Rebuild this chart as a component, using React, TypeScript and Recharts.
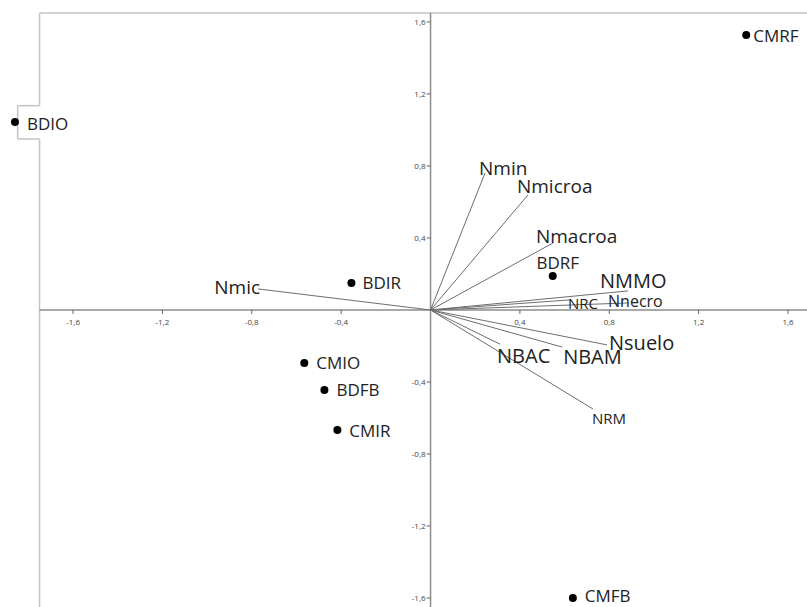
import { ReferenceLine, Scatter, ScatterChart, XAxis, YAxis } from "recharts";

// sites (points)
const siteNames = ["BDIO", "CMRF", "BDIR", "BDRF", "CMIO", "BDFB", "CMIR", "CMFB"];
const siteX = [-1.86, 1.413, -0.354, 0.547, -0.565, -0.475, -0.417, 0.637];
const siteY = [1.044, 1.528, 0.15, 0.189, -0.294, -0.444, -0.667, -1.6];

// variables (vectors from origin)
const varNames = ["Nmin", "Nmicroa", "Nmacroa", "NMMO", "Nnecro", "NRC", "Nsuelo", "NBAM", "NBAC", "NRM", "Nmic"];
const varX = [0.244, 0.436, 0.548, 0.884, 0.884, 0.624, 0.79, 0.589, 0.311, 0.727, -0.772];
const varY = [0.761, 0.639, 0.372, 0.106, 0.039, 0.056, -0.194, -0.206, -0.19, -0.55, 0.117];

const xTicks = [-1.6, -1.2, -0.8, -0.4, 0.4, 0.8, 1.2, 1.6];
const yTicks = [1.6, 1.2, 0.8, 0.4, -0.4, -0.8, -1.2, -1.6];

const X_MIN = -1.927;
const X_MAX = 1.685;
const Y_MIN = -1.65;
const Y_MAX = 1.722;
const FRAME_X = -1.75;
const FRAME_TOP = 1.65;

const FONT = "'Open Sans', sans-serif";

// label placement relative to the marker, in px
const siteLabel: Record<string, { dx: number; dy: number; anchor?: string }> = {
  BDIO: { dx: 12, dy: 1 },
  CMRF: { dx: 7, dy: 1 },
  BDIR: { dx: 11, dy: 0 },
  BDRF: { dx: 5, dy: -13, anchor: "middle" },
  CMIO: { dx: 12, dy: 0 },
  BDFB: { dx: 12, dy: 0 },
  CMIR: { dx: 12, dy: 0 },
  CMFB: { dx: 12, dy: -2 },
};

const varLabel: Record<string, { dx: number; dy: number; size: number; anchor?: string }> = {
  Nmin: { dx: -6, dy: -5, size: 19 },
  Nmicroa: { dx: -11, dy: -9, size: 19 },
  Nmacroa: { dx: -17, dy: -7, size: 19 },
  NMMO: { dx: -28, dy: -10, size: 20 },
  Nnecro: { dx: -20, dy: -2, size: 16 },
  NRC: { dx: -2, dy: 3, size: 15 },
  Nsuelo: { dx: 2, dy: -2, size: 20 },
  NBAM: { dx: 1, dy: 9, size: 20 },
  NBAC: { dx: -3, dy: 11, size: 20 },
  NRM: { dx: -1, dy: 9, size: 15 },
  Nmic: { dx: 2, dy: -2, size: 19, anchor: "end" },
};

const sites = siteNames.map((name, i) => ({ name, x: siteX[i], y: siteY[i] }));
const vars = varNames.map((name, i) => ({ name, x: varX[i], y: varY[i] }));
const xTickData = xTicks.map((v) => ({ x: v, y: 0 }));
const yTickData = yTicks.map((v) => ({ x: 0, y: v }));

const fmt = (v: number) => v.toFixed(1).replace(".", ",");

const frameSegs = [
  [FRAME_X, FRAME_TOP, X_MAX, FRAME_TOP],
  [FRAME_X, FRAME_TOP, FRAME_X, 1.135],
  [FRAME_X, 1.135, -1.848, 1.135],
  [-1.848, 1.135, -1.848, 0.95],
  [-1.848, 0.95, FRAME_X, 0.95],
  [FRAME_X, 0.95, FRAME_X, Y_MIN],
];

function SiteDot(props: any) {
  const { cx, cy, payload } = props;
  const l = siteLabel[payload.name];
  return (
    <g>
      <circle cx={cx} cy={cy} r={4} fill="#000" />
      <text
        x={cx + l.dx}
        y={cy + l.dy}
        textAnchor={l.anchor ?? "start"}
        dominantBaseline="central"
        fontFamily={FONT}
        fontSize={17}
        fill="#222"
      >
        {payload.name}
      </text>
    </g>
  );
}

function VarLabel(props: any) {
  const { cx, cy, payload } = props;
  const l = varLabel[payload.name];
  return (
    <text
      x={cx + l.dx}
      y={cy + l.dy}
      textAnchor={l.anchor ?? "start"}
      dominantBaseline="central"
      fontFamily={FONT}
      fontSize={l.size}
      fill="#222"
    >
      {payload.name}
    </text>
  );
}

function XTick(props: any) {
  const { cx, cy, payload } = props;
  return (
    <g>
      <line x1={cx} y1={cy} x2={cx} y2={cy + 4} stroke="#666" strokeWidth={1} />
      <text x={cx} y={cy + 12} textAnchor="middle" dominantBaseline="central" fontFamily={FONT} fontSize={8} fill="#444">
        {fmt(payload.x)}
      </text>
    </g>
  );
}

function YTick(props: any) {
  const { cx, cy, payload } = props;
  return (
    <g>
      <line x1={cx - 4} y1={cy} x2={cx} y2={cy} stroke="#666" strokeWidth={1} />
      <text x={cx - 5} y={cy} textAnchor="end" dominantBaseline="central" fontFamily={FONT} fontSize={8} fill="#444">
        {fmt(payload.y)}
      </text>
    </g>
  );
}

export default function App() {
  return (
    <div style={{ position: "absolute", left: 0, top: 0, width: 807, height: 607, background: "#fff" }}>
      <ScatterChart width={807} height={607} margin={{ top: 0, right: 0, bottom: 0, left: 0 }}>
        <XAxis type="number" dataKey="x" domain={[X_MIN, X_MAX]} allowDataOverflow hide />
        <YAxis type="number" dataKey="y" domain={[Y_MIN, Y_MAX]} allowDataOverflow hide />
        {frameSegs.map(([x1, y1, x2, y2], i) => (
          <ReferenceLine
            key={`f${i}`}
            segment={[{ x: x1, y: y1 }, { x: x2, y: y2 }]}
            stroke="#c4c4c4"
            strokeWidth={1.5}
            ifOverflow="visible"
          />
        ))}
        <ReferenceLine segment={[{ x: FRAME_X, y: 0 }, { x: X_MAX, y: 0 }]} stroke="#8c8c8c" strokeWidth={1.5} ifOverflow="visible" />
        <ReferenceLine segment={[{ x: 0, y: FRAME_TOP }, { x: 0, y: Y_MIN }]} stroke="#8c8c8c" strokeWidth={1.5} ifOverflow="visible" />
        {vars.map((v) => (
          <ReferenceLine
            key={v.name}
            segment={[{ x: 0, y: 0 }, { x: v.x, y: v.y }]}
            stroke="#6e6e6e"
            strokeWidth={1}
            ifOverflow="visible"
          />
        ))}
        <Scatter data={xTickData} shape={XTick} isAnimationActive={false} />
        <Scatter data={yTickData} shape={YTick} isAnimationActive={false} />
        <Scatter data={vars} shape={VarLabel} isAnimationActive={false} />
        <Scatter data={sites} shape={SiteDot} isAnimationActive={false} />
      </ScatterChart>
    </div>
  );
}
